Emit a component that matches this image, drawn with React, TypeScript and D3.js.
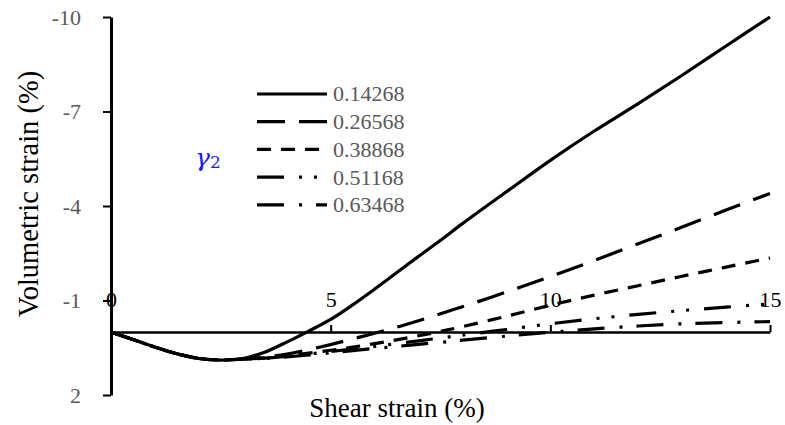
import React, { useEffect, useRef } from 'react';
import * as d3 from 'd3';

// shear strain (%) sample points shared by every series
const shearStrain = [0, 0.5, 1, 1.5, 2, 2.5, 3, 3.5, 4, 4.5, 5, 5.5, 6, 6.5, 7, 7.5, 8, 9, 10, 11, 12, 13, 14, 15];

// volumetric strain (%) for each gamma_2 value
const vol014268 = [0, 0.24, 0.48, 0.69, 0.84, 0.89, 0.84, 0.64, 0.32, -0.03, -0.4, -0.86, -1.36, -1.88, -2.4, -2.91, -3.44, -4.45, -5.45, -6.38, -7.25, -8.15, -9.08, -10];
const vol026568 = [0, 0.24, 0.48, 0.69, 0.84, 0.89, 0.86, 0.8, 0.7, 0.56, 0.4, 0.22, 0.04, -0.15, -0.36, -0.58, -0.8, -1.27, -1.76, -2.27, -2.8, -3.33, -3.87, -4.4];
const vol038868 = [0, 0.24, 0.48, 0.69, 0.84, 0.89, 0.86, 0.82, 0.75, 0.67, 0.58, 0.48, 0.37, 0.25, 0.12, -0.02, -0.17, -0.5, -0.85, -1.17, -1.47, -1.77, -2.06, -2.35];
const vol051168 = [0, 0.24, 0.48, 0.69, 0.84, 0.89, 0.86, 0.83, 0.77, 0.7, 0.62, 0.54, 0.46, 0.37, 0.28, 0.19, 0.1, -0.08, -0.26, -0.42, -0.56, -0.68, -0.79, -0.89];
const vol063468 = [0, 0.24, 0.48, 0.69, 0.84, 0.89, 0.86, 0.84, 0.79, 0.73, 0.66, 0.59, 0.52, 0.46, 0.39, 0.33, 0.26, 0.13, 0.01, -0.1, -0.19, -0.26, -0.3, -0.33];

const seriesLabels = ['0.14268', '0.26568', '0.38868', '0.51168', '0.63468'];
const seriesValues = [vol014268, vol026568, vol038868, vol051168, vol063468];
const dashes = ['none', '28,14', '14,10', '27,15,3,12,3,15', '27,15,3,14'];

const xTicks = [0, 5, 10, 15];
const yTicks = [-10, -7, -4, -1, 2];

const App: React.FC = () => {
  const svgRef = useRef<SVGSVGElement>(null);

  useEffect(() => {
    if (!svgRef.current) return;
    const svg = d3.select(svgRef.current);
    svg.selectAll('*').remove();

    const x = d3.scaleLinear().domain([0, 15]).range([111, 770]);
    const y = d3.scaleLinear().domain([-10, 2]).range([17, 395]);
    const serif = '"Liberation Serif", "Times New Roman", serif';

    // y axis
    const yAxis = svg.append('g')
      .attr('transform', `translate(${x(0)},0)`)
      .call(d3.axisLeft(y).tickValues(yTicks).tickSizeInner(8).tickSizeOuter(0).tickPadding(22).tickFormat(d3.format('d')));
    yAxis.select('.domain').attr('stroke', '#000').attr('stroke-width', 3);
    yAxis.selectAll('.tick line').attr('stroke', '#000').attr('stroke-width', 2);
    yAxis.selectAll('.tick text')
      .attr('fill', '#595959')
      .attr('font-family', serif)
      .attr('font-size', 22)
      .text(d => String(d).replace('−', '-'));

    // x axis drawn along zero volumetric strain
    const xAxis = svg.append('g')
      .attr('transform', `translate(0,${y(0)})`)
      .call(d3.axisTop(x).tickValues(xTicks).tickSizeInner(7).tickSizeOuter(0).tickPadding(18));
    xAxis.select('.domain').attr('stroke', '#000').attr('stroke-width', 2.5);
    xAxis.selectAll('.tick line').attr('stroke', '#000').attr('stroke-width', 2);
    xAxis.selectAll('.tick text')
      .attr('fill', '#000')
      .attr('font-family', serif)
      .attr('font-size', 22);

    // curves
    const line = d3.line<number>()
      .x((_, i) => x(shearStrain[i]))
      .y(d => y(d))
      .curve(d3.curveCatmullRom.alpha(0.5));

    svg.append('g')
      .selectAll('path')
      .data(seriesValues)
      .join('path')
      .attr('d', d => line(d))
      .attr('fill', 'none')
      .attr('stroke', '#000')
      .attr('stroke-width', 3.2)
      .attr('stroke-dasharray', (_, i) => dashes[i]);

    // legend
    const legend = svg.append('g')
      .selectAll('g')
      .data(seriesLabels)
      .join('g')
      .attr('transform', (_, i) => `translate(257,${94 + i * 27.7})`);

    legend.append('line')
      .attr('x1', 0)
      .attr('x2', 70)
      .attr('stroke', '#000')
      .attr('stroke-width', 3.2)
      .attr('stroke-dasharray', (_, i) => dashes[i]);

    legend.append('text')
      .attr('x', 76)
      .attr('dy', '0.34em')
      .attr('fill', '#595959')
      .attr('font-family', serif)
      .attr('font-size', 22)
      .text(d => d);

    // gamma label
    const g2 = svg.append('text')
      .attr('x', 195)
      .attr('y', 166)
      .attr('fill', '#1a1aff')
      .attr('font-family', '"DejaVu Serif", serif')
      .attr('font-size', 25);
    g2.append('tspan').attr('font-style', 'italic').text('γ');
    g2.append('tspan').attr('font-size', 17).attr('dy', 2).text('2');

    // axis titles
    svg.append('text')
      .attr('transform', `translate(38,194) rotate(-90)`)
      .attr('text-anchor', 'middle')
      .attr('fill', '#000')
      .attr('font-family', serif)
      .attr('font-size', 28.5)
      .text('Volumetric strain (%)');

    svg.append('text')
      .attr('x', 397)
      .attr('y', 417)
      .attr('text-anchor', 'middle')
      .attr('fill', '#000')
      .attr('font-family', serif)
      .attr('font-size', 27)
      .text('Shear strain (%)');
  }, []);

  return (
    <svg ref={svgRef} width={785} height={425} style={{ position: 'absolute', left: 0, top: 0, background: '#fff' }} />
  );
};

export default App;
